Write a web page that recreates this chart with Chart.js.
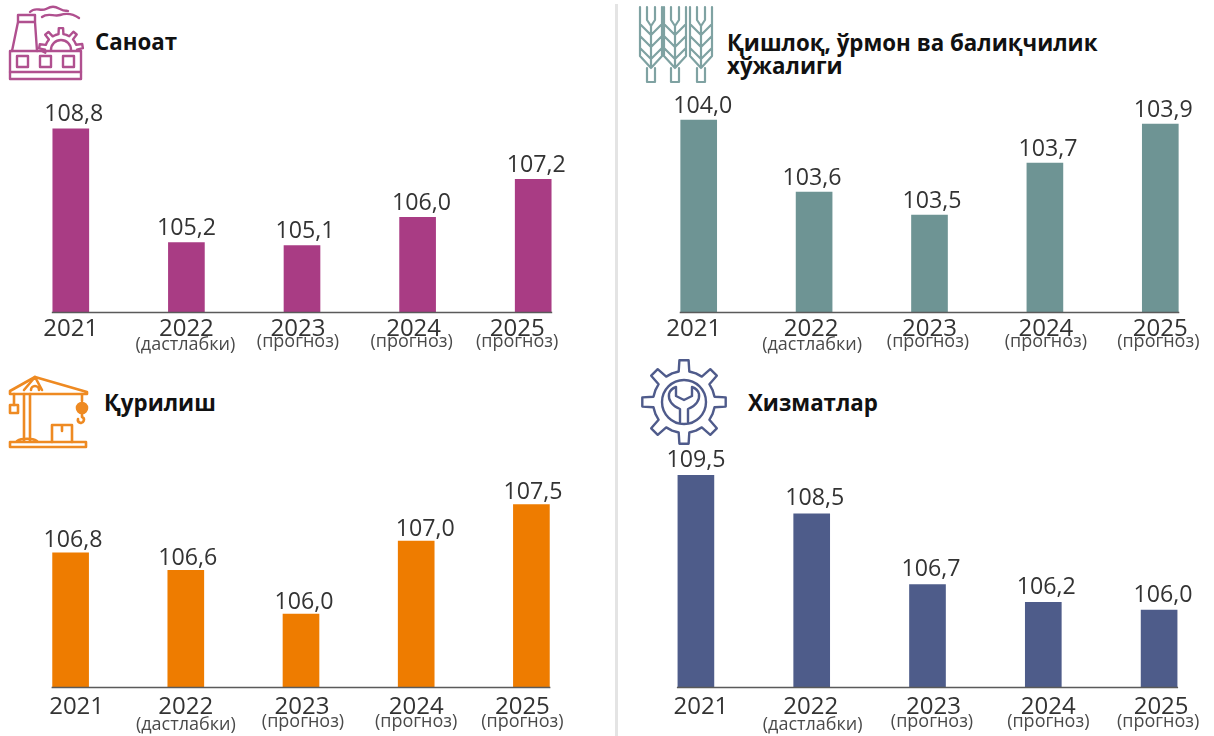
<!DOCTYPE html>
<html>
<head>
<meta charset="utf-8">
<script src="https://cdn.jsdelivr.net/npm/chart.js@4/dist/chart.umd.min.js"></script>
<style>
html,body{margin:0;padding:0;background:#fff;}
#page{position:relative;width:1214px;height:736px;overflow:hidden;background:#fff;filter:blur(0.55px);}
canvas{position:absolute;}
#icons{position:absolute;left:0;top:0;}
#divider{position:absolute;left:615px;top:4px;height:732px;width:3px;background:#e4e4e4;}
.title{position:absolute;font-family:"Open Sans","Noto Sans",sans-serif;font-weight:700;font-size:22.3px;line-height:23px;color:#111;white-space:nowrap;}
</style>
</head>
<body>
<div id="page">
  <div id="divider"></div>
  <svg id="icons" width="1214" height="736" fill="none" stroke-linejoin="round" stroke-linecap="round"></svg>
  <div class="title" style="left:95px;top:30px">Саноат</div>
  <div class="title" style="left:727px;top:31px">Қишлоқ, ўрмон ва балиқчилик<br>хўжалиги</div>
  <div class="title" style="left:104px;top:391px">Қурилиш</div>
  <div class="title" style="left:748px;top:391px">Хизматлар</div>
  <canvas id="sanoat" width="578" height="325" style="left:13px;top:40px"></canvas>
  <canvas id="qishloq" width="577" height="325" style="left:641px;top:40px"></canvas>
  <canvas id="qurilish" width="576" height="316" style="left:13px;top:420px"></canvas>
  <canvas id="xizmat" width="579" height="316" style="left:638px;top:420px"></canvas>
</div>
<script>
var years = ['2021', '2022', '2023', '2024', '2025'];
var yearNotes = ['', '(дастлабки)', '(прогноз)', '(прогноз)', '(прогноз)'];

var sanoatValues = [108.8, 105.2, 105.1, 106.0, 107.2];
var qishloqValues = [103.96, 103.60, 103.485, 103.745, 103.94];
var qurilishValues = [106.84, 106.6, 106.0, 107.0, 107.5];
var xizmatValues = [109.5, 108.5, 106.66, 106.2, 106.0];

// small shifts of the printed labels, the source is not aligned to its bars
function labelPlugin(cfg) {
    return {
        id: 'panelLabels',
        afterDatasetsDraw: function (chart) {
            var ctx = chart.ctx;
            var x = chart.scales.x;
            var y = chart.scales.y;
            var base = chart.chartArea.bottom;
            var half = cfg.barWidth / 2;

            // axis line only runs from first to last bar
            ctx.save();
            ctx.strokeStyle = '#5a5a5a';
            ctx.lineWidth = 1.6;
            ctx.beginPath();
            ctx.moveTo(x.getPixelForValue(0) - half - 1, base + 0.5);
            ctx.lineTo(x.getPixelForValue(4) + half + 1, base + 0.5);
            ctx.stroke();

            ctx.textAlign = 'center';
            ctx.textBaseline = 'middle';
            for (var i = 0; i < years.length; i++) {
                var cx = x.getPixelForValue(i);
                var value = cfg.values[i];
                ctx.fillStyle = '#333';
                ctx.font = '23.2px "Open Sans"';
                ctx.fillText(value.toFixed(1).replace('.', ','), cx + cfg.valueShift[i], y.getPixelForValue(value) - cfg.valueGap);
                ctx.font = '24px "Open Sans"';
                ctx.fillText(years[i], cx + cfg.yearShift[i], base + cfg.yearDy);
                if (yearNotes[i]) {
                    ctx.fillStyle = '#4a4a4a';
                    ctx.font = '18px "Open Sans"';
                    ctx.fillText(yearNotes[i], cx + cfg.noteShift[i], base + cfg.noteDy + (i == 1 ? 3 : 0));
                }
            }
            ctx.restore();
        }
    };
}

function makePanel(id, values, color, yMin, yMax, bottom, shifts) {
    var cfg = {
        values: values,
        barWidth: 36,
        valueShift: shifts.value,
        valueGap: shifts.gap,
        yearShift: shifts.year,
        noteShift: shifts.note,
        yearDy: shifts.yearDy,
        noteDy: shifts.noteDy
    };
    return new Chart(document.getElementById(id), {
        type: 'bar',
        data: {
            labels: years,
            datasets: [{
                data: values,
                backgroundColor: color,
                barThickness: cfg.barWidth
            }]
        },
        options: {
            responsive: false,
            animation: false,
            layout: { padding: { bottom: bottom } },
            plugins: { legend: { display: false }, tooltip: { enabled: false } },
            scales: {
                x: { display: false },
                y: { display: false, min: yMin, max: yMax }
            }
        },
        plugins: [labelPlugin(cfg)]
    });
}

makePanel('sanoat', sanoatValues, '#a93c84', 103, 111.61, 53, {
    value: [3, 0, 3, 4, 3], gap: 14, year: [0, 0, -4, -4, -16], note: [0, -1, -4, -6, -16], yearDy: 17.5, noteDy: 30
});
makePanel('qishloq', qishloqValues, '#6e9494', 103, 104.36, 53, {
    value: [4, -2, 2.5, 3, 3], gap: 14, year: [-5, -3, 0, 1, 0], note: [0, -2, -1.5, 1, -2], yearDy: 17.5, noteDy: 30
});
makePanel('qurilish', qurilishValues, '#ee7c00', 105, 108.66, 49, {
    value: [2.4, 2, 3, 9, 1.6], gap: 12, year: [6, 0, 1, 0, -9], note: [0, 0, 2, 0, -9], yearDy: 20.5, noteDy: 34.5
});
makePanel('xizmat', xizmatValues, '#4e5c8a', 104, 110.94, 49, {
    value: [0, 3, 3.5, 3, 4], gap: 15, year: [5, -1, 6, 5, 2], note: [0, 1, 4.5, 5, -1], yearDy: 20.5, noteDy: 34.5
});

// icons
function gearPath(cx, cy, rOut, rIn, teeth, from, to) {
    var d = '';
    var step = 2 * Math.PI / teeth;
    var first = true;
    for (var a = from; a < to - 0.001; a += step) {
        var pts = [[rIn, a - step * 0.5], [rIn, a - step * 0.22], [rOut, a - step * 0.14], [rOut, a + step * 0.14], [rIn, a + step * 0.22]];
        pts.forEach(function (p) {
            d += (first ? 'M' : 'L') + (cx + p[0] * Math.sin(p[1])).toFixed(1) + ' ' + (cy - p[0] * Math.cos(p[1])).toFixed(1) + ' ';
            first = false;
        });
    }
    return d;
}

function wheat(c) {
    var d = 'M' + (c - 4) + ' 68V82H' + (c + 4) + 'V68';
    d += 'M' + (c - 11) + ' 7V56L' + c + ' 68L' + (c + 11) + ' 56V7';
    d += 'M' + (c - 4) + ' 7V20L' + c + ' 26L' + (c + 4) + ' 20V7M' + c + ' 26V68';
    for (var y = 24; y <= 48; y += 12) {
        d += 'M' + (c - 11) + ' ' + y + 'L' + c + ' ' + (y + 11) + 'L' + (c + 11) + ' ' + y;
    }
    return d;
}

var icons = document.getElementById('icons');
icons.innerHTML =
    // factory
    '<g stroke="#b0508f" stroke-width="2.4">' +
    '<rect x="10" y="51" width="71" height="28"/><path d="M10 72H81"/>' +
    '<rect x="17" y="56" width="11" height="11"/><rect x="40" y="56" width="11" height="11"/><rect x="63" y="56" width="11" height="11"/>' +
    '<path d="M12 51L18 22H35L37 51M18 22V15H35V22"/>' +
    '<path d="M30 12C36 6 40 12 46 9S54 6 60 9 66 10 68 11"/>' +
    '<path d="M42 17C48 12 54 17 60 15S72 13 79 18"/>' +
    '<path d="M42 51' + gearPath(61, 50, 22, 16, 9, -1.4, 1.75).replace(/^M/, 'L') + 'L80 51"/>' +
    '<path d="M51 50A10 10 0 0 1 71 50"/></g>' +
    // wheat
    '<path stroke="#7fa2a2" stroke-width="2.2" d="' + wheat(651) + wheat(675) + wheat(701) + '"/>' +
    // crane
    '<g stroke="#ee8a22" stroke-width="2.6">' +
    '<path d="M10 391L35 377L87 392V394H10Z"/><path d="M24 390L35 377L42 390M31 390A4 4 0 0 1 39 390"/>' +
    '<path d="M24 394V441M30 394V441M14 394V405"/><rect x="10" y="405" width="8" height="8"/>' +
    '<path d="M17 441A12 5 0 0 1 37 441"/><rect x="10" y="442" width="76" height="5"/>' +
    '<path d="M52 442V425H72V442M62 425V431"/>' +
    '<path d="M82 394V401"/><circle cx="82" cy="408" r="5" fill="#ee8a22"/><path d="M82 413V417A3 3 0 1 1 78 419"/></g>' +
    // gear
    '<g stroke="#4f5b8b" stroke-width="2.4">' +
    '<path d="' + gearPath(684, 402, 42, 31, 8, 0, 6.28) + 'Z"/>' +
    '<circle cx="684" cy="402" r="22"/>' +
    '<path d="M680 422V409C672 406 668 400 669 394C670 390 673 388 676 387V396L684 400L692 396V387C695 388 698 390 699 394C700 400 696 406 688 409V422"/></g>';
</script>
</body>
</html>
